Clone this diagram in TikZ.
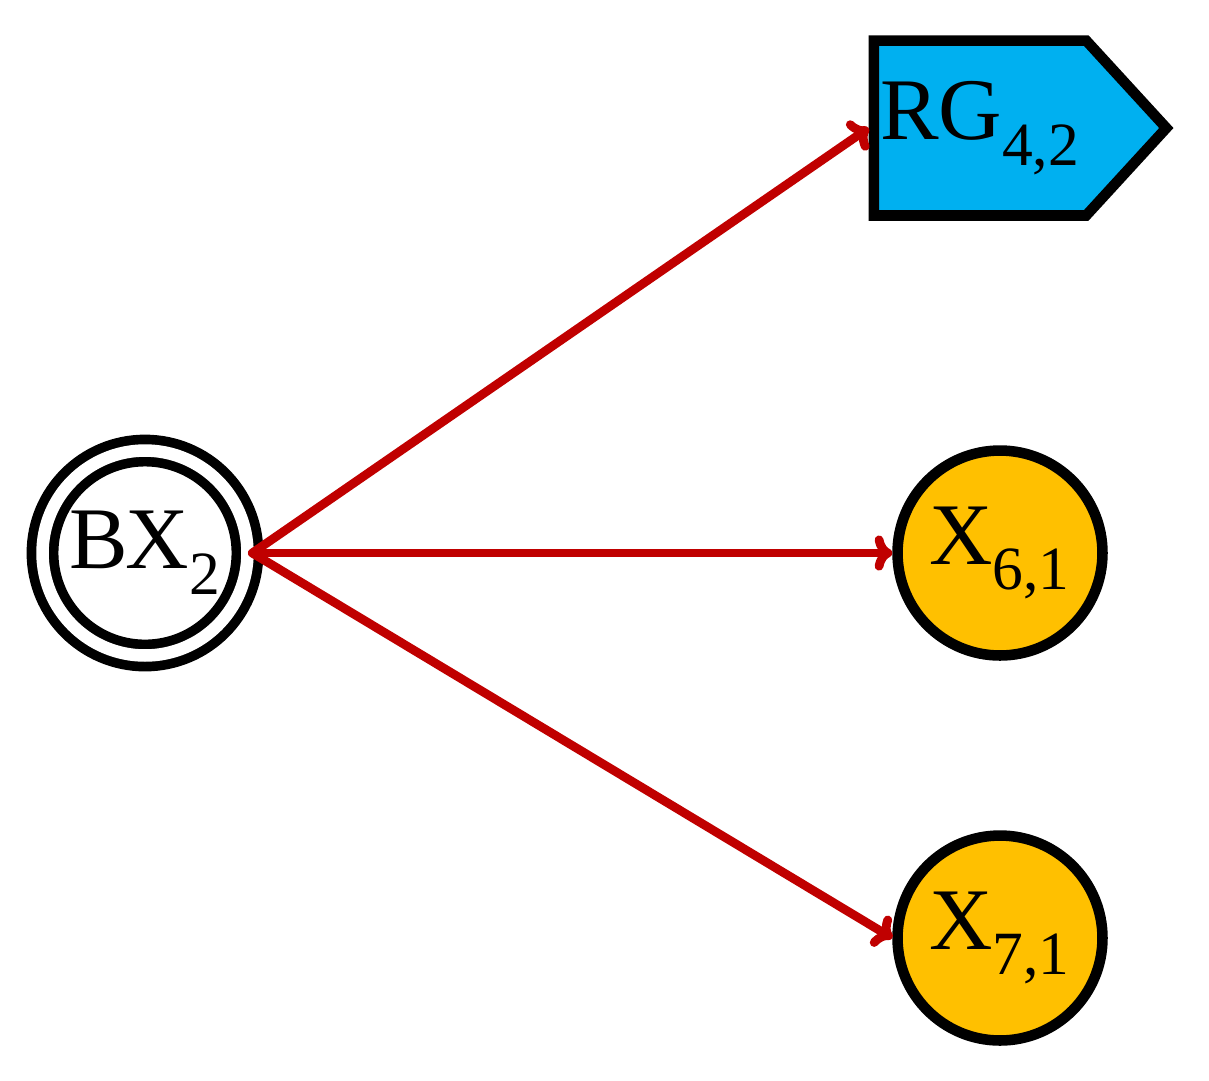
\documentclass[tikz,border=0pt]{standalone}
\usepackage{fontspec}
\setmainfont{Liberation Serif}
\usetikzlibrary{shapes.symbols,arrows.meta}
\definecolor{netblue}{HTML}{00B0F0}
\definecolor{netorange}{HTML}{FFC000}
\definecolor{netred}{HTML}{C00000}
\tikzset{
    place/.style={circle, draw=black, line width=6pt, fill=netorange, minimum size=4.1cm, inner sep=0pt, font=\fontsize{50}{60}\selectfont},
    start/.style={circle, draw=black, line width=5.5pt, double=white, double distance=0.25cm, minimum size=4.1cm, inner sep=0pt, font=\fontsize{50}{60}\selectfont},
    goal/.style={signal, signal to=east, signal pointer angle=95, draw=black, line width=6pt, fill=netblue, minimum width=5.85cm, minimum height=3.5cm, inner sep=0pt, font=\fontsize{50}{60}\selectfont},
    link/.style={draw=netred, line width=5pt, line cap=round, -{To[length=10pt,width=20pt]}}
}
\begin{document}
\begin{tikzpicture}[x=0.02cm, y=-0.02cm]
    \useasboundingbox (0,0) rectangle (1209,1080);

    \node[start] (BX) at (145,553) {B\kern-1pt X\textsubscript{2}};
    \node[goal] (RG) at (980,128) {RG\textsubscript{4,2}\hspace{0.9cm}};
    \node[place] (X6) at (1000,553) {X\textsubscript{6,1}};
    \node[place] (X7) at (1000,938) {X\textsubscript{7,1}};

    \draw[link] (BX.east) -- (RG.west);
    \draw[link] (BX.east) -- (X6.west);
    \draw[link] (BX.east) -- (X7.west);
\end{tikzpicture}
\end{document}
